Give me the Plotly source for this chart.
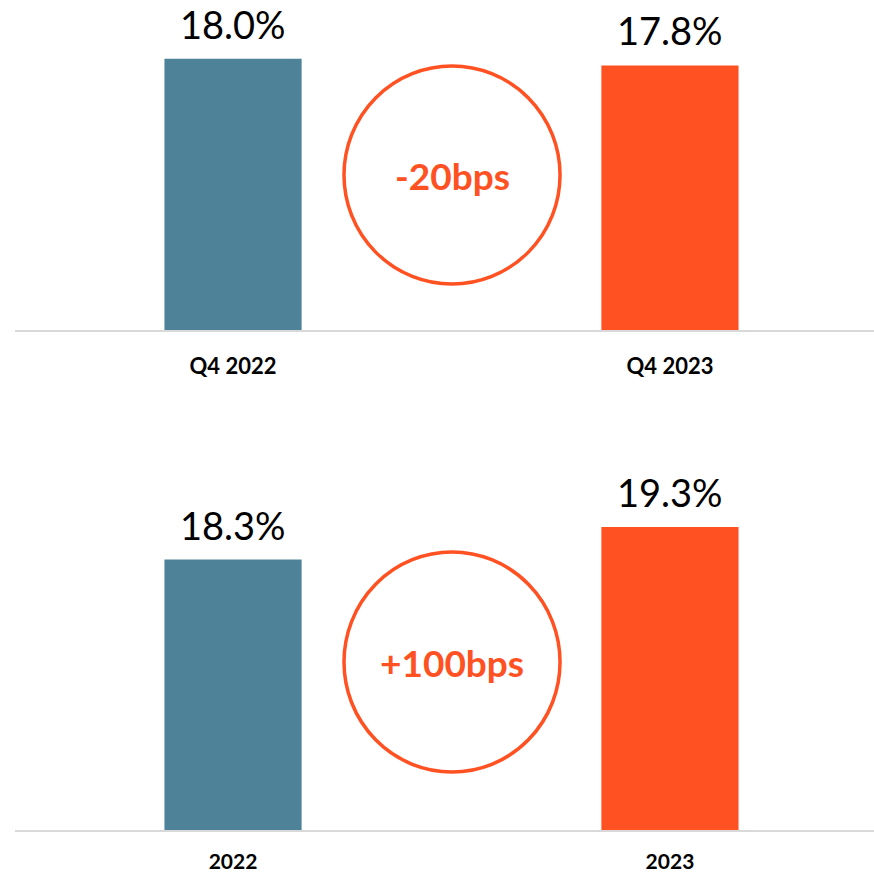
import plotly.graph_objects as go
from plotly.subplots import make_subplots

# data
quarter_labels = ["Q4 2022", "Q4 2023"]
quarter_values = [18.0, 17.8]
quarter_change = "-20bps"

year_labels = ["2022", "2023"]
year_values = [18.3, 19.3]
year_change = "+100bps"

bar_colors = ["#4E8299", "#FF5122"]
accent = "#FF5122"
font_family = "Lato"

fig = make_subplots(rows=2, cols=1, vertical_spacing=0.1)

fig.add_trace(go.Bar(
    x=quarter_labels, y=quarter_values,
    marker=dict(color=bar_colors, line=dict(width=0)),
    width=0.314, showlegend=False, hoverinfo="skip"
), row=1, col=1)

fig.add_trace(go.Bar(
    x=year_labels, y=year_values,
    marker=dict(color=bar_colors, line=dict(width=0)),
    width=0.314, showlegend=False, hoverinfo="skip"
), row=2, col=1)

# value labels above bars (x given as category index)
for xref, yref, values in [("x", "y", quarter_values), ("x2", "y2", year_values)]:
    for i, val in enumerate(values):
        fig.add_annotation(
            x=i, y=val, xref=xref, yref=yref,
            text=f"{val:.1f}%", showarrow=False,
            xanchor="center", yanchor="bottom", yshift=10,
            font=dict(family=font_family, size=38, color="black")
        )

# change circles
for (y0, y1), txt in [((0.675, 0.9245), quarter_change),
                      ((0.1167, 0.3684), year_change)]:
    fig.add_shape(
        type="circle", xref="paper", yref="paper",
        x0=0.383, x1=0.6345, y0=y0, y1=y1,
        line=dict(color=accent, width=3.5), fillcolor="rgba(0,0,0,0)"
    )
    fig.add_annotation(
        x=(0.383 + 0.6345) / 2, y=(y0 + y1) / 2, xref="paper", yref="paper",
        text=f"<b>{txt}</b>", showarrow=False,
        xanchor="center", yanchor="middle",
        font=dict(family=font_family, size=37, color=accent)
    )

axis_common = dict(
    type="category", automargin=False,
    showgrid=False, zeroline=False,
    showline=True, linecolor="#D9D9D9", linewidth=1.5,
    ticks="outside", tickcolor="rgba(0,0,0,0)",
    range=[-0.499, 1.467],
)

fig.update_layout(
    width=874, height=874,
    margin=dict(l=15, r=0, t=0, b=0),
    plot_bgcolor="white", paper_bgcolor="white",
    xaxis=dict(**axis_common, anchor="y", ticklen=16,
               tickfont=dict(family=font_family, size=22, color="black", weight="bold")),
    xaxis2=dict(**axis_common, anchor="y2", ticklen=12,
                tickfont=dict(family=font_family, size=21, color="black", weight="bold")),
    yaxis=dict(domain=[0.6224, 1.0], range=[10, 19.73], visible=False, automargin=False),
    yaxis2=dict(domain=[0.0503, 0.4508], range=[10, 20.74], visible=False, automargin=False),
)

fig.write_html("out.html", config={"displayModeBar": False},
               post_script="document.body.style.margin='0';")
